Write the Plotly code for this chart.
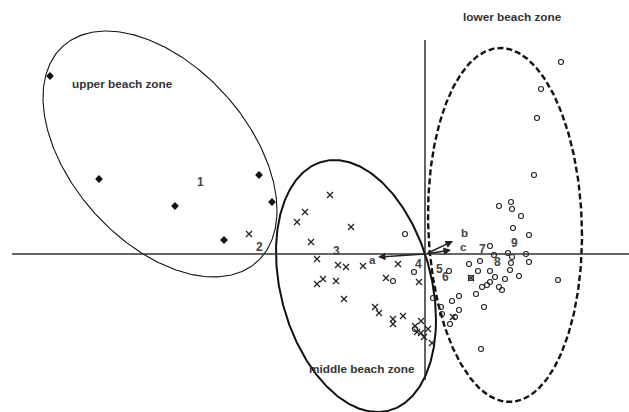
import numpy as np
import plotly.graph_objects as go

# ordination scores (axis 1, axis 2)
upper_x = [-3.76, -3.27, -2.51, -1.67, -1.54, -2.02]
upper_y = [1.78, 0.75, 0.48, 0.79, 0.52, 0.14]

middle_x = [-1.77, -0.96, -1.21, -1.29, -0.75, -1.15, -1.09, -0.88, -0.80, -0.63,
            -0.28, -1.03, -1.09, -0.90, -0.40, -0.07, -0.82, -0.51, -0.47, -0.33,
            -0.33, -0.23, -0.11, -0.05, -0.09, -0.05, -0.02, 0.02, 0.06, 0.45, 0.27]
middle_y = [0.20, 0.59, 0.42, 0.32, 0.27, 0.12, -0.05, -0.11, -0.13, -0.12,
            -0.10, -0.25, -0.30, -0.27, -0.24, -0.28, -0.45, -0.53, -0.59, -0.65,
            -0.70, -0.62, -0.72, -0.67, -0.78, -0.79, -0.83, -0.75, -0.89, -0.24, -0.63]

lower_x = [1.35, 1.15, 1.11, 1.08, 0.73, 0.85, 0.86, 0.95, 0.87, 1.03,
           0.64, 0.68, 0.82, 0.86, 1.00, 1.03, 0.85, 0.84, 0.54, 0.43,
           0.52, 0.64, 0.23, 0.45, 0.69, 0.79, 0.93, 1.32, 0.64, 0.61,
           0.56, 0.73, 0.76, 0.50, 0.33, 0.26, 0.58, 0.33, 0.15, 0.16,
           0.29, 0.24, 0.07, 0.55, -0.21, -0.12, -0.33, -0.11]
lower_y = [1.92, 1.65, 1.36, 0.79, 0.48, 0.52, 0.45, 0.38, 0.26, 0.19,
           0.08, -0.01, 0.01, -0.03, 0.00, -0.08, -0.09, -0.16, -0.07, -0.10,
           -0.17, -0.17, -0.17, -0.24, -0.23, -0.25, -0.22, -0.26, -0.28, -0.31,
           -0.33, -0.33, -0.36, -0.40, -0.42, -0.47, -0.53, -0.56, -0.53, -0.60,
           -0.63, -0.70, -0.44, -0.95, 0.20, -0.18, -0.27, -0.75]

# environmental vectors
vec_names = ["a", "b", "c"]
vec_x = [-0.48, 0.27, 0.25]
vec_y = [-0.03, 0.13, 0.04]
vec_lab_x = [-0.54, 0.38, 0.37]
vec_lab_y = [-0.06, 0.215, 0.075]

# numbered labels
num_labels = ["1", "2", "3", "4", "5", "6", "7", "8", "9"]
num_x = [-2.26, -1.67, -0.90, -0.08, 0.13, 0.19, 0.56, 0.71, 0.88]
num_y = [0.72, 0.07, 0.03, -0.10, -0.15, -0.23, 0.05, -0.08, 0.11]

# zone labels
zone_names = ["upper beach zone", "middle beach zone", "lower beach zone"]
zone_x = [-3.04, -0.64, 0.86]
zone_y = [1.70, -1.15, 2.37]

# ellipses: centre x, centre y, half-width, half-height, covariance term
ell_cx = [-2.66, -0.70, 0.79]
ell_cy = [1.00, -0.32, 0.29]
ell_hw = [1.17, 0.80, 0.77]
ell_hh = [1.23, 1.26, 1.77]
ell_sxy = [-0.66, -0.272, -0.08]
ell_style = [dict(width=1.1, dash="solid"), dict(width=2.0, dash="solid"),
             dict(width=2.4, dash="6px,3px")]

fig = go.Figure()

# axes lines
fig.add_shape(type="line", x0=-4.14, x1=2.03, y0=0, y1=0,
              line=dict(color="#333333", width=1.4))
fig.add_shape(type="line", x0=-0.01, x1=-0.01, y0=2.14, y1=-1.26,
              line=dict(color="#222222", width=1.4))

t = np.linspace(0, 2 * np.pi, 400)
for cx, cy, hw, hh, sxy, st in zip(ell_cx, ell_cy, ell_hw, ell_hh, ell_sxy, ell_style):
    r = sxy / hw
    s = np.sqrt(hh ** 2 - r ** 2)
    ex = cx + hw * np.cos(t)
    ey = cy + r * np.cos(t) + s * np.sin(t)
    fig.add_trace(go.Scatter(x=ex, y=ey, mode="lines",
                             line=dict(color="#111111", width=st["width"], dash=st["dash"]),
                             hoverinfo="skip", showlegend=False))

fig.add_trace(go.Scatter(x=upper_x, y=upper_y, mode="markers",
                         marker=dict(symbol="diamond", size=6, color="#111111"),
                         showlegend=False))
fig.add_trace(go.Scatter(x=middle_x, y=middle_y, mode="markers",
                         marker=dict(symbol="x-thin", size=6, color="#222222",
                                     line=dict(color="#222222", width=1.3)),
                         showlegend=False))
fig.add_trace(go.Scatter(x=lower_x, y=lower_y, mode="markers",
                         marker=dict(symbol="circle-open", size=5, color="#222222",
                                     line=dict(color="#222222", width=1.1)),
                         showlegend=False))

for vx, vy in zip(vec_x, vec_y):
    fig.add_annotation(x=vx, y=vy, ax=0, ay=0, xref="x", yref="y", axref="x", ayref="y",
                       showarrow=True, arrowhead=2, arrowsize=1.0, arrowwidth=1.5,
                       arrowcolor="#222222", text="")

for name, lx, ly in zip(vec_names, vec_lab_x, vec_lab_y):
    fig.add_annotation(x=lx, y=ly, text="<b>%s</b>" % name, showarrow=False,
                       font=dict(family="Liberation Sans", size=11.5, color="#444444"),
                       borderpad=0)

for name, lx, ly in zip(num_labels, num_x, num_y):
    fig.add_annotation(x=lx, y=ly, text="<b>%s</b>" % name, showarrow=False,
                       font=dict(family="Liberation Sans", size=12, color="#444444"))

for name, lx, ly in zip(zone_names, zone_x, zone_y):
    fig.add_annotation(x=lx, y=ly, text="<b>%s</b>" % name, showarrow=False,
                       font=dict(family="Liberation Sans", size=11.8, color="#333333"))

fig.update_layout(
    width=629, height=412,
    margin=dict(l=0, r=0, t=0, b=0),
    paper_bgcolor="white", plot_bgcolor="white",
    xaxis=dict(range=[-4.26, 2.03], visible=False, fixedrange=True),
    yaxis=dict(range=[-1.58, 2.54], visible=False, fixedrange=True),
    showlegend=False,
)

fig.write_html("out.html", config={"displayModeBar": False},
               post_script="document.body.style.margin='0';document.body.style.overflow='hidden';")
